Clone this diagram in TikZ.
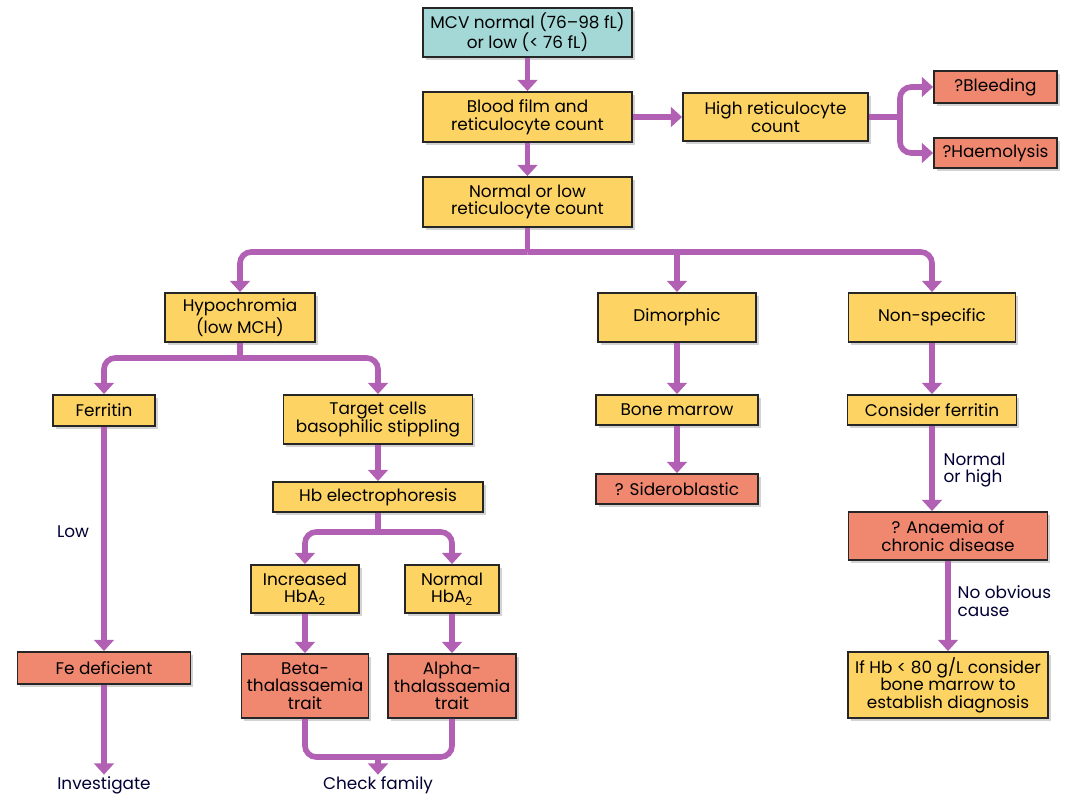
\documentclass[tikz,border=0pt]{standalone}
\usepackage{fontspec}
\setmainfont{Poppins}
\usetikzlibrary{arrows.meta,shadows}
\definecolor{mcvcyan}{RGB}{163,216,214}
\definecolor{boxyellow}{RGB}{253,211,100}
\definecolor{boxsalmon}{RGB}{240,136,112}
\definecolor{linkpurple}{RGB}{178,96,180}

\begin{document}
\begin{tikzpicture}[x=0.025cm,y=-0.025cm,
  box/.style={draw=black!85, line width=1.3pt, fill=boxyellow, align=center, inner sep=0pt,
    font=\fontsize{12}{12.5}\selectfont,
    drop shadow={shadow xshift=2pt,shadow yshift=-2pt,opacity=0.35}},
  start/.style={box, fill=mcvcyan},
  result/.style={box, fill=boxsalmon},
  link/.style={draw=linkpurple, line width=4pt, rounded corners=8pt},
  arr/.style={link, -{Triangle[width=14pt,length=8pt]}},
  lbl/.style={font=\fontsize{12}{12.5}\selectfont, text=black!80!blue, align=left, inner sep=1pt}]
\useasboundingbox (0,0) rectangle (1080,810);

% top of the chart
\node[start, minimum width=5.225cm, minimum height=1.225cm] (mcv) at (527.5,32.5) {MCV normal (76--98 fL)\\or low (< 76 fL)};
\node[box, minimum width=5.225cm, minimum height=1.25cm] (blood) at (527.5,117) {Blood film and\\reticulocyte count};
\node[box, minimum width=5.225cm, minimum height=1.25cm] (normlow) at (527.5,202) {Normal or low\\reticulocyte count};
\node[box, minimum width=4.625cm, minimum height=1.2cm] (highret) at (775.5,117) {High reticulocyte\\count};
\node[result, minimum width=3.075cm, minimum height=0.8cm] (bleed) at (995.5,87) {?Bleeding};
\node[result, minimum width=3.075cm, minimum height=0.75cm] (haemo) at (995.5,153) {?Haemolysis};

% second row
\node[box, minimum width=3.75cm, minimum height=1.225cm] (hypo) at (240,317.5) {Hypochromia\\(low MCH)};
\node[box, minimum width=3.95cm, minimum height=1.225cm] (dimorph) at (677,317.5) {Dimorphic};
\node[box, minimum width=4.175cm, minimum height=1.225cm] (nonspec) at (932,317.5) {Non-specific};

% third row
\node[box, minimum width=2.55cm, minimum height=0.775cm] (ferritin) at (104,410.5) {Ferritin};
\node[box, minimum width=4.725cm, minimum height=1.225cm] (target) at (378,419.5) {Target cells\\basophilic stippling};
\node[box, minimum width=4.05cm, minimum height=0.75cm] (bonemar) at (677,410) {Bone marrow};
\node[box, minimum width=4.225cm, minimum height=0.75cm] (consfer) at (932,410) {Consider ferritin};

% lower part
\node[box, minimum width=5.25cm, minimum height=0.75cm] (hbelec) at (378,497) {Hb electrophoresis};
\node[result, minimum width=4.05cm, minimum height=0.75cm] (sidero) at (677,489) {? Sideroblastic};
\node[result, minimum width=4.975cm, minimum height=1.2cm] (anaem) at (948,536) {? Anaemia of\\chronic disease};
\node[box, minimum width=2.7cm, minimum height=1.2cm] (incr) at (305,589) {Increased\\HbA\textsubscript{2}};
\node[box, minimum width=2.35cm, minimum height=1.2cm] (normhb) at (452,589) {Normal\\HbA\textsubscript{2}};
\node[result, minimum width=4.325cm, minimum height=0.8cm] (fedef) at (104,668) {Fe deficient};
\node[result, minimum width=3.175cm, minimum height=1.6cm] (beta) at (305,686) {Beta-\\thalassaemia\\trait};
\node[result, minimum width=3.2cm, minimum height=1.6cm] (alpha) at (452,686) {Alpha-\\thalassaemia\\trait};
\node[box, minimum width=5cm, minimum height=1.65cm] (ifhb) at (948,685) {If Hb < 80 g/L consider\\bone marrow to\\establish diagnosis};

% free labels
\node[lbl] (low) at (73,532) {Low};
\node[lbl] (investigate) at (104,785) {Investigate};
\node[lbl] (family) at (378,785) {Check family};
\node[lbl, anchor=west] (normhigh) at (942,470) {Normal\\or high};
\node[lbl, anchor=west] (noobv) at (956,601) {No obvious\\cause};

% connectors
\draw[arr] (mcv) -- (blood);
\draw[arr] (blood) -- (normlow);
\draw[arr] (blood) -- (highret);
\coordinate (retsplit) at (900,117);
\draw[link] (highret) -- (retsplit);
\draw[arr] (retsplit) |- (bleed);
\draw[arr] (retsplit) |- (haemo);

\coordinate (mainsplit) at (527.5,252);
\draw[link] (normlow) -- (mainsplit);
\draw[arr] (mainsplit) -| (hypo);
\draw[arr] (mainsplit) -| (nonspec);
\draw[arr] (dimorph |- mainsplit) -- (dimorph);

\coordinate (hyposplit) at (240,358);
\draw[link] (hypo) -- (hyposplit);
\draw[arr] (hyposplit) -| (ferritin);
\draw[arr] (hyposplit) -| (target);
\draw[arr] (ferritin) -- (fedef);
\draw[arr] (fedef) -- (investigate);

\draw[arr] (target) -- (hbelec);
\coordinate (hbsplit) at (378,532);
\draw[link] (hbelec) -- (hbsplit);
\draw[arr] (hbsplit) -| (incr);
\draw[arr] (hbsplit) -| (normhb);
\draw[arr] (incr) -- (beta);
\draw[arr] (normhb) -- (alpha);
\coordinate (famjoin) at (378,757);
\draw[link] (beta) |- (famjoin) -| (alpha);
\draw[arr] (famjoin) -- (family);

\draw[arr] (dimorph) -- (bonemar);
\draw[arr] (bonemar) -- (sidero);
\draw[arr] (nonspec) -- (consfer);
\draw[arr] (consfer) -- (consfer |- anaem.north);
\draw[arr] (anaem) -- (ifhb);
\end{tikzpicture}
\end{document}
